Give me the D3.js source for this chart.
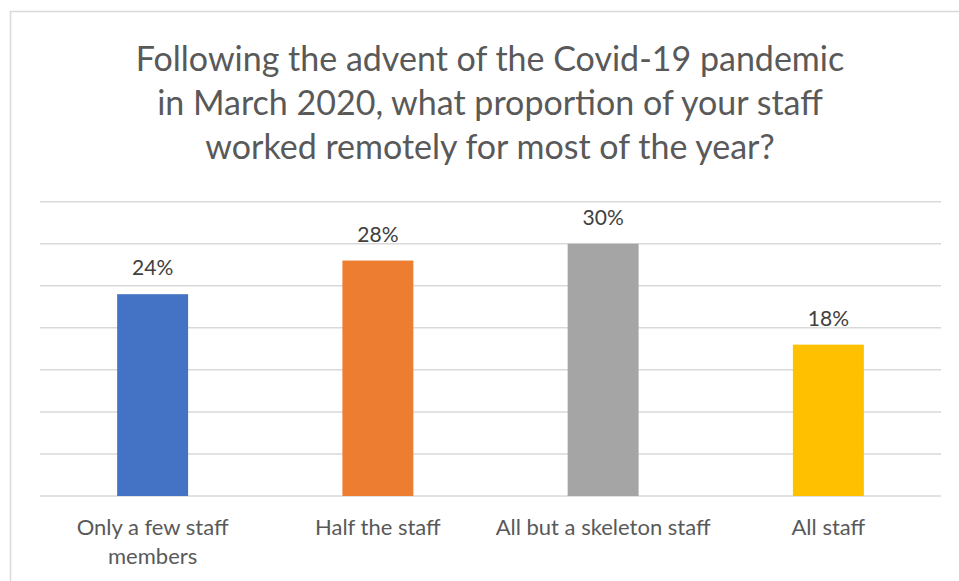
<!DOCTYPE html>
<html>
<head>
<meta charset="utf-8">
<script src="https://cdn.jsdelivr.net/npm/d3@7"></script>
<style>
  html, body { margin: 0; padding: 0; background: #fff; }
  svg { display: block; }
</style>
</head>
<body>
<svg id="chart" width="959" height="581"></svg>
<script>
// Survey responses: share of staff working remotely
const categories = [["Only a few staff", "members"], ["Half the staff"], ["All but a skeleton staff"], ["All staff"]];
const values = [24, 28, 30, 18];
const colors = ["#4472C4", "#ED7D31", "#A5A5A5", "#FFC000"];
const gridTicks = [0, 5, 10, 15, 20, 25, 30, 35];
const titleLines = [
  "Following the advent of the Covid-19 pandemic",
  "in March 2020, what proportion of your staff",
  "worked remotely for most of the year?"
];

const FONT = "Lato, 'Open Sans', sans-serif";
const svg = d3.select("#chart");

// chart frame
svg.append("path")
  .attr("d", "M10.5,600 V11.5 H960")
  .attr("fill", "none")
  .attr("stroke", "#d9d9d9")
  .attr("stroke-width", 1.5);

const plot = { left: 40, right: 941, top: 201.7, bottom: 496 };

const x = d3.scaleBand()
  .domain(d3.range(values.length))
  .range([plot.left, plot.right])
  .paddingInner(0.685)
  .paddingOuter(0.3425);

const y = d3.scaleLinear()
  .domain([0, 35])
  .range([plot.bottom, plot.top]);

// horizontal gridlines
svg.append("g")
  .selectAll("line")
  .data(gridTicks)
  .join("line")
  .attr("x1", plot.left)
  .attr("x2", plot.right)
  .attr("y1", d => y(d))
  .attr("y2", d => y(d))
  .attr("stroke", "#d9d9d9")
  .attr("stroke-width", 1.5);

// bars
svg.append("g")
  .selectAll("rect")
  .data(values)
  .join("rect")
  .attr("x", (d, i) => x(i))
  .attr("width", x.bandwidth())
  .attr("y", d => y(d))
  .attr("height", d => y(0) - y(d))
  .attr("fill", (d, i) => colors[i]);

// value labels
svg.append("g")
  .selectAll("text")
  .data(values)
  .join("text")
  .attr("x", (d, i) => x(i) + x.bandwidth() / 2)
  .attr("y", d => y(d) - 19)
  .attr("text-anchor", "middle")
  .attr("font-family", FONT)
  .attr("font-size", 21)
  .attr("fill", "#404040")
  .text(d => d + "%");

// category labels
const cat = svg.append("g")
  .selectAll("text")
  .data(categories)
  .join("text")
  .attr("x", (d, i) => x(i) + x.bandwidth() / 2)
  .attr("y", 535)
  .attr("text-anchor", "middle")
  .attr("font-family", FONT)
  .attr("font-size", 22)
  .attr("fill", "#595959");
cat.selectAll("tspan")
  .data(d => d)
  .join("tspan")
  .attr("x", function() { return d3.select(this.parentNode).attr("x"); })
  .attr("dy", (d, i) => i === 0 ? 0 : 29)
  .text(d => d);

// title
svg.append("text")
  .attr("text-anchor", "middle")
  .attr("font-family", FONT)
  .attr("font-size", 34)
  .attr("fill", "#595959")
  .selectAll("tspan")
  .data(titleLines)
  .join("tspan")
  .attr("x", 490)
  .attr("y", (d, i) => 71 + i * 44)
  .text(d => d);
</script>
</body>
</html>
